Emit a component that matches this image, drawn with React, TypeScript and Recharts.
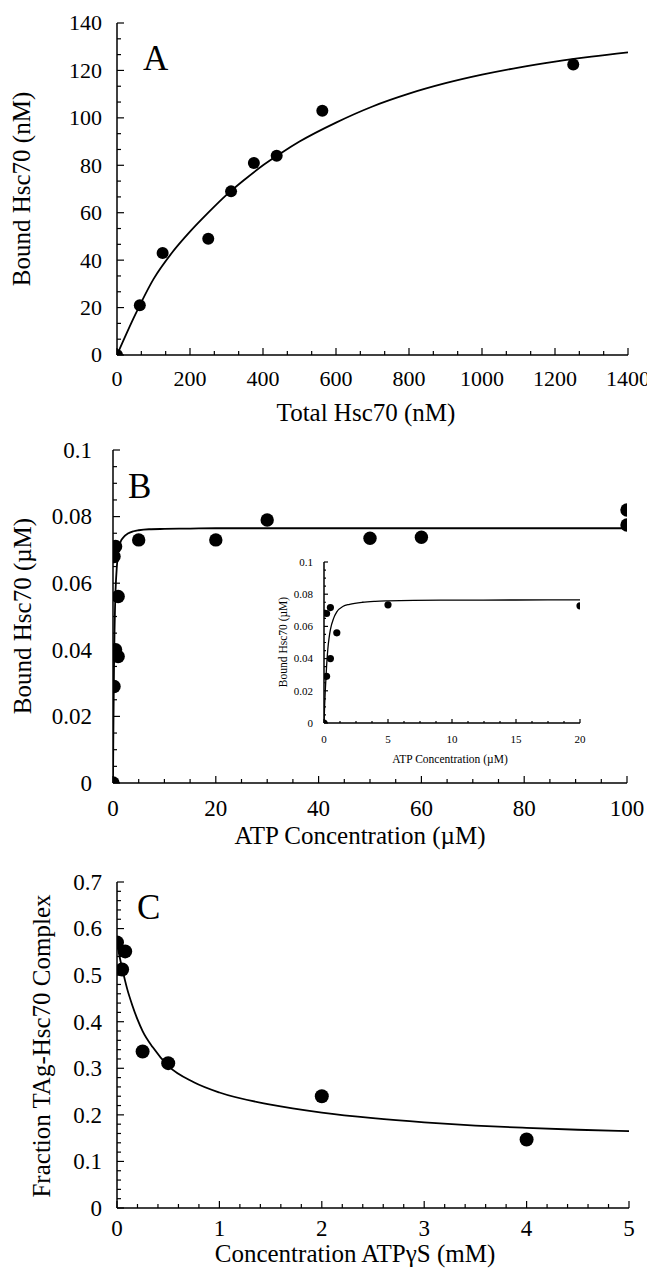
import React from "react";
import { ComposedChart, Line, Scatter, XAxis, YAxis } from "recharts";

// ---- panel A: bound vs total Hsc70 (nM)
const aPointX = [0, 62.5, 125, 250, 312.5, 375, 437.5, 562.5, 1250];
const aPointY = [0, 21, 43, 49, 69, 81, 84, 103, 122.5];
const aFitX = [0, 50, 100, 150, 200, 250, 300, 350, 400, 450, 500, 600, 700, 800, 900, 1000, 1100, 1200, 1300, 1400];
const aFitY = [0, 17, 32, 43, 52, 60, 67.5, 74, 80, 85.2, 90, 98, 104.8, 110.2, 114.6, 118.2, 121.2, 123.7, 125.8, 127.6];
const aXTicks = [0, 200, 400, 600, 800, 1000, 1200, 1400];
const aYTicks = [0, 20, 40, 60, 80, 100, 120, 140];

// ---- panel B: bound Hsc70 vs ATP (uM)
const bPointX = [0, 0.2, 0.5, 1, 0.2, 0.5, 1, 5, 20, 30, 50, 60, 100, 100];
const bPointY = [0, 0.029, 0.04, 0.038, 0.068, 0.071, 0.056, 0.073, 0.073, 0.079, 0.0735, 0.0738, 0.082, 0.0775];
const bFitX = [0, 0.05, 0.1, 0.2, 0.3, 0.4, 0.5, 0.75, 1, 1.5, 2, 3, 4, 5, 7, 10, 15, 20, 30, 50, 75, 100];
const bFitY = [0, 0.011, 0.02, 0.035, 0.046, 0.053, 0.058, 0.065, 0.069, 0.0725, 0.0737, 0.075, 0.0756, 0.0759, 0.0762, 0.0763, 0.0764, 0.0765, 0.0765, 0.0765, 0.0765, 0.0765];
const bXTicks = [0, 20, 40, 60, 80, 100];
const bYTicks = [0, 0.02, 0.04, 0.06, 0.08, 0.1];

// inset of B (0-20 uM)
const insetPointX = [0, 0.2, 0.5, 0.2, 0.5, 1, 5, 20];
const insetPointY = [0, 0.029, 0.04, 0.068, 0.0717, 0.056, 0.0734, 0.0728];
const insetXTicks = [0, 5, 10, 15, 20];
const insetYTicks = [0, 0.02, 0.04, 0.06, 0.08, 0.1];

// ---- panel C: fraction complex vs ATPgS (mM)
const cPointX = [0, 0.08, 0.05, 0.25, 0.5, 2, 4];
const cPointY = [0.57, 0.551, 0.512, 0.336, 0.311, 0.24, 0.147];
const cFitX = [0, 0.025, 0.05, 0.1, 0.15, 0.2, 0.25, 0.35, 0.5, 0.75, 1, 1.5, 2, 2.5, 3, 3.5, 4, 4.5, 5];
const cFitY = [0.57, 0.54, 0.515, 0.47, 0.435, 0.405, 0.38, 0.345, 0.305, 0.27, 0.248, 0.222, 0.205, 0.193, 0.184, 0.177, 0.172, 0.168, 0.165];
const cXTicks = [0, 1, 2, 3, 4, 5];
const cYTicks = [0, 0.1, 0.2, 0.3, 0.4, 0.5, 0.6, 0.7];

const FONT = "'Liberation Serif', 'DejaVu Serif', 'Times New Roman', Times, serif";

const pairs = (xs: number[], ys: number[]) => xs.map((x, i) => ({ x, y: ys[i] }));

// majors plus n-1 minor ticks between each pair
const withMinor = (majors: number[], n: number) => {
  const out: number[] = [];
  for (let i = 0; i < majors.length - 1; i++) {
    const step = (majors[i + 1] - majors[i]) / n;
    for (let k = 0; k < n; k++) out.push(majors[i] + k * step);
  }
  out.push(majors[majors.length - 1]);
  return out;
};

type Side = "bottom" | "left" | "top" | "right";
type TickOpts = { major: number; minor: number; fontSize?: number; gap?: number };

function makeTick(side: Side, majors: number[], o: TickOpts) {
  return (props: any) => {
    const { x, y, payload } = props;
    const v = payload.value;
    const label = majors.find((m) => Math.abs(m - v) < 1e-9);
    const len = label !== undefined ? o.major : o.minor;
    let x2 = x;
    let y2 = y;
    if (side === "bottom") y2 = y - len;
    if (side === "top") y2 = y + len;
    if (side === "left") x2 = x + len;
    if (side === "right") x2 = x - len;
    const txt = { fontSize: o.fontSize, fontFamily: FONT, fill: "#000" };
    return (
      <g>
        <line x1={x} y1={y} x2={x2} y2={y2} stroke="#000" strokeWidth={1.2} />
        {o.fontSize && label !== undefined && side === "bottom" && (
          <text x={x} y={y + (o.gap || 0)} textAnchor="middle" style={txt}>
            {String(label)}
          </text>
        )}
        {o.fontSize && label !== undefined && side === "left" && (
          <text x={x - (o.gap || 0)} y={y + o.fontSize * 0.34} textAnchor="end" style={txt}>
            {String(label)}
          </text>
        )}
      </g>
    );
  };
}

const axisLine = { stroke: "#000", strokeWidth: 1.5 };

function Dot(r: number) {
  return (p: any) => <circle cx={p.cx} cy={p.cy} r={r} fill="#000" />;
}

function boxAxes(
  xDomain: [number, number],
  yDomain: [number, number],
  xTicks: number[],
  yTicks: number[],
  xMinor: number,
  yMinor: number,
  yWidth: number,
  xHeight: number,
  fs: number,
  xGap: number,
  yGap: number,
  major = 7,
  minor = 4
) {
  const xs = withMinor(xTicks, xMinor);
  const ys = withMinor(yTicks, yMinor);
  const common = { tickSize: 0, tickMargin: 0, tickLine: false, interval: 0 as const, axisLine, allowDataOverflow: true };
  return [
    <XAxis key="xb" xAxisId="b" dataKey="x" type="number" domain={xDomain} ticks={xs} height={xHeight}
      tick={makeTick("bottom", xTicks, { major, minor, fontSize: fs, gap: xGap })} {...common} />,
    <XAxis key="xt" xAxisId="t" orientation="top" dataKey="x" type="number" domain={xDomain} ticks={xs} height={0}
      tick={makeTick("top", xTicks, { major, minor })} {...common} />,
    <YAxis key="yl" yAxisId="l" dataKey="y" type="number" domain={yDomain} ticks={ys} width={yWidth}
      tick={makeTick("left", yTicks, { major, minor, fontSize: fs, gap: yGap })} {...common} />,
    <YAxis key="yr" yAxisId="r" orientation="right" dataKey="y" type="number" domain={yDomain} ticks={ys} width={0}
      tick={makeTick("right", yTicks, { major, minor })} {...common} />,
  ];
}

const titleStyle = { fontFamily: FONT, fontSize: 25, fill: "#000" };
const letterStyle = { fontFamily: FONT, fontSize: 35, fill: "#000" };

export default function App() {
  const aPts = pairs(aPointX, aPointY);
  const aFit = pairs(aFitX, aFitY);
  const bPts = pairs(bPointX, bPointY);
  const bFit = pairs(bFitX, bFitY);
  const inPts = pairs(insetPointX, insetPointY);
  const inFit = bFit.filter((d) => d.x <= 20);
  const cPts = pairs(cPointX, cPointY);
  const cFit = pairs(cFitX, cFitY);

  return (
    <div style={{ position: "absolute", left: 0, top: 0, width: 647, height: 1268, background: "#fff", fontFamily: FONT }}>
      {/* A */}
      <div style={{ position: "absolute", left: 0, top: 0 }}>
        <ComposedChart width={647} height={440} margin={{ top: 23, right: 19, bottom: 0, left: 0 }}>
          {boxAxes([0, 1400], [0, 140], aXTicks, aYTicks, 3, 3, 117, 85, 22, 31, 15)}
          <Line xAxisId="b" yAxisId="l" data={aFit} dataKey="y" type="monotone" stroke="#000" strokeWidth={1.8} dot={false} isAnimationActive={false} />
          <Scatter xAxisId="b" yAxisId="l" data={aPts} dataKey="y" shape={Dot(6)} isAnimationActive={false} />
          <text x={30} y={189} transform="rotate(-90 30 189)" textAnchor="middle" style={titleStyle}>Bound Hsc70 (nM)</text>
          <text x={366} y={421} textAnchor="middle" style={titleStyle}>Total Hsc70 (nM)</text>
          <text x={143} y={70} style={letterStyle}>A</text>
        </ComposedChart>
      </div>

      {/* B */}
      <div style={{ position: "absolute", left: 0, top: 430 }}>
        <ComposedChart width={647} height={430} margin={{ top: 20, right: 20, bottom: 0, left: 0 }}>
          {boxAxes([0, 100], [0, 0.1], bXTicks, bYTicks, 4, 4, 113, 77, 23, 33, 21)}
          <Line xAxisId="b" yAxisId="l" data={bFit} dataKey="y" type="monotone" stroke="#000" strokeWidth={1.8} dot={false} isAnimationActive={false} />
          <Scatter xAxisId="b" yAxisId="l" data={bPts} dataKey="y" shape={Dot(6.7)} isAnimationActive={false} />
          <text x={31} y={186} transform="rotate(-90 31 186)" textAnchor="middle" style={titleStyle}>Bound Hsc70 (µM)</text>
          <text x={360} y={414} textAnchor="middle" style={titleStyle}>ATP Concentration (µM)</text>
          <text x={128} y={68} style={letterStyle}>B</text>
        </ComposedChart>
      </div>

      {/* inset in B */}
      <div style={{ position: "absolute", left: 250, top: 552 }}>
        <ComposedChart width={340} height={220} margin={{ top: 10, right: 10, bottom: 0, left: 0 }}>
          {boxAxes([0, 20], [0, 0.1], insetXTicks, insetYTicks, 4, 4, 74, 49, 11, 20, 11, 4, 2)}
          <Line xAxisId="b" yAxisId="l" data={inFit} dataKey="y" type="monotone" stroke="#000" strokeWidth={1.3} dot={false} isAnimationActive={false} />
          <Scatter xAxisId="b" yAxisId="l" data={inPts} dataKey="y" shape={Dot(3.6)} isAnimationActive={false} />
          <text x={37} y={90} transform="rotate(-90 37 90)" textAnchor="middle" style={{ ...titleStyle, fontSize: 11.5 }}>Bound Hsc70 (µM)</text>
          <text x={200} y={211} textAnchor="middle" style={{ ...titleStyle, fontSize: 11.5 }}>ATP Concentration (µM)</text>
        </ComposedChart>
      </div>

      {/* C */}
      <div style={{ position: "absolute", left: 0, top: 860 }}>
        <ComposedChart width={647} height={408} margin={{ top: 22, right: 18, bottom: 0, left: 0 }}>
          {boxAxes([0, 5], [0, 0.7], cXTicks, cYTicks, 5, 5, 117, 60, 23, 28, 15)}
          <Line xAxisId="b" yAxisId="l" data={cFit} dataKey="y" type="monotone" stroke="#000" strokeWidth={1.8} dot={false} isAnimationActive={false} />
          <Scatter xAxisId="b" yAxisId="l" data={cPts} dataKey="y" shape={Dot(7)} isAnimationActive={false} />
          <text x={50} y={186} transform="rotate(-90 50 186)" textAnchor="middle" style={titleStyle}>Fraction TAg-Hsc70 Complex</text>
          <text x={355} y={402} textAnchor="middle" style={titleStyle}>Concentration ATPγS (mM)</text>
          <text x={137} y={59} style={letterStyle}>C</text>
        </ComposedChart>
      </div>
    </div>
  );
}
